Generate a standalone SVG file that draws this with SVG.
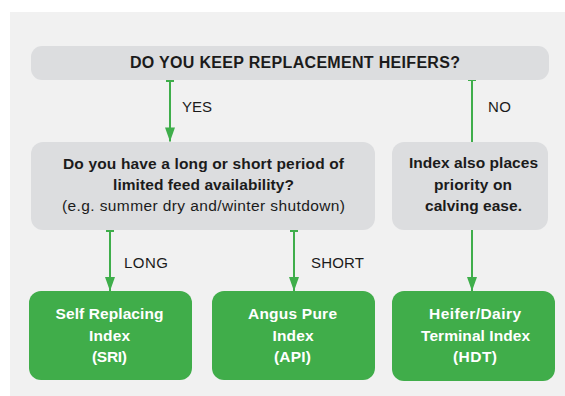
<svg xmlns="http://www.w3.org/2000/svg" width="565" height="396" viewBox="0 0 565 396">
<style>
.q{fill:#dcdddf}
.g{fill:#40ad4a}
.t{font-family:"Liberation Sans",Arial,sans-serif;fill:#1b1b1b;text-anchor:middle}
.b{font-weight:bold}
.w{fill:#ffffff}
.lbl{font-family:"Liberation Sans",Arial,sans-serif;font-size:15px;fill:#1b1b1b}
.c{stroke:#3fae4b;stroke-width:2;fill:none}
</style>
<defs>
<marker id="arr" markerUnits="userSpaceOnUse" markerWidth="15" markerHeight="11" refX="14" refY="5" orient="auto" overflow="visible">
<path d="M0,0 L14,5 L0,10 Z" fill="#3fae4b"/>
</marker>
<marker id="tee" markerUnits="userSpaceOnUse" markerWidth="4" markerHeight="10" refX="1" refY="5" orient="auto" overflow="visible">
<path d="M1,1 V9" stroke="#3fae4b" stroke-width="2"/>
</marker>
</defs>
<rect x="10" y="12" width="555" height="384" fill="#f1f1f1"/>
<g id="connectors">
<line class="c" x1="170" y1="81" x2="170" y2="141.5" marker-start="url(#tee)" marker-end="url(#arr)"/>
<line class="c" x1="472" y1="80" x2="472" y2="142" marker-start="url(#tee)"/>
<line class="c" x1="110" y1="231" x2="110" y2="291" marker-start="url(#tee)" marker-end="url(#arr)"/>
<line class="c" x1="294" y1="231" x2="294" y2="291" marker-start="url(#tee)" marker-end="url(#arr)"/>
<line class="c" x1="472" y1="230" x2="472" y2="291" marker-end="url(#arr)"/>
<text class="lbl" x="182" y="111.5" textLength="30">YES</text>
<text class="lbl" x="488" y="111.5" textLength="23">NO</text>
<text class="lbl" x="124" y="267.5" textLength="44">LONG</text>
<text class="lbl" x="311" y="267.5" textLength="53">SHORT</text>
</g>
<g id="q-heifers">
<rect class="q" x="31" y="46" width="518" height="34" rx="11"/>
<text class="t b" x="295" y="68" font-size="16" textLength="330">DO YOU KEEP REPLACEMENT HEIFERS?</text>
</g>
<g id="q-feed">
<rect class="q" x="31" y="142" width="344" height="88" rx="12"/>
<text class="t b" x="203.5" y="169" font-size="15.5" textLength="281">Do you have a long or short period of</text>
<text class="t b" x="203.5" y="189.5" font-size="15.5" textLength="181">limited feed availability?</text>
<text class="t" x="203.5" y="211" font-size="15.5" textLength="283">(e.g. summer dry and/winter shutdown)</text>
</g>
<g id="n-calving">
<rect class="q" x="392" y="142" width="156" height="88" rx="12"/>
<text class="t b" x="473.5" y="168" font-size="15.5" textLength="129">Index also places</text>
<text class="t b" x="473" y="189.5" font-size="15.5" textLength="78">priority on</text>
<text class="t b" x="473.5" y="211" font-size="15.5" textLength="97">calving ease.</text>
</g>
<g id="n-sri">
<rect class="g" x="29" y="291" width="163" height="89" rx="12"/>
<text class="t b w" x="109.5" y="318.5" font-size="15.5" textLength="108">Self Replacing</text>
<text class="t b w" x="109.5" y="340.5" font-size="15.5" textLength="41">Index</text>
<text class="t b w" x="109.5" y="362" font-size="15.5" textLength="35">(SRI)</text>
</g>
<g id="n-api">
<rect class="g" x="212" y="291" width="163" height="89" rx="12"/>
<text class="t b w" x="292.5" y="318.5" font-size="15.5" textLength="89">Angus Pure</text>
<text class="t b w" x="293" y="340.5" font-size="15.5" textLength="41">Index</text>
<text class="t b w" x="292.5" y="362" font-size="15.5" textLength="37">(API)</text>
</g>
<g id="n-hdt">
<rect class="g" x="392" y="291" width="163" height="90" rx="12"/>
<text class="t b w" x="475" y="318.5" font-size="15.5" textLength="92">Heifer/Dairy</text>
<text class="t b w" x="475.5" y="340.5" font-size="15.5" textLength="109">Terminal Index</text>
<text class="t b w" x="475" y="362" font-size="15.5" textLength="44">(HDT)</text>
</g>
</svg>
